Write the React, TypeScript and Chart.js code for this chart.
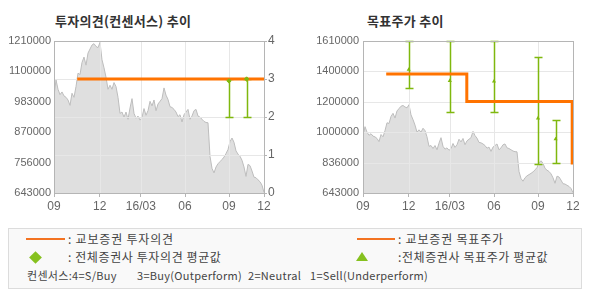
import React, { useEffect, useRef } from "react";
import { Chart, registerables } from "chart.js";

Chart.register(...registerables);

// ---- data ----
const xTickPos = [0, 22.85, 43.4, 65.5, 87.5, 105];
const xTickLabels = ["09", "12", "16/03", "06", "09", "12"];

const price = [
  1005000, 1065000, 1030000, 1010000, 1020000, 1005000, 1000000, 990000, 970000, 1015000,
  1000000, 1040000, 1090000, 1085000, 1130000, 1150000, 1120000, 1165000, 1180000, 1195000,
  1200000, 1190000, 1185000, 1205000, 1140000, 1110000, 1075000, 1030000, 1045000, 1030000,
  1055000, 1040000, 1000000, 940000, 945000, 926000, 945000, 918000, 960000, 995000,
  940000, 922000, 930000, 915000, 925000, 958000, 933000, 950000, 985000, 968000,
  990000, 950000, 975000, 985000, 995000, 1035000, 1008000, 992000, 965000, 962000,
  955000, 945000, 928000, 935000, 908000, 935000, 945000, 955000, 918000, 930000,
  950000, 955000, 930000, 926000, 918000, 910000, 906000, 905000, 780000, 735000,
  718000, 740000, 752000, 760000, 768000, 777000, 790000, 805000, 835000, 848000,
  832000, 800000, 788000, 780000, 765000, 740000, 705000, 750000, 745000, 725000,
  702000, 700000, 692000, 685000, 672000, 645000,
];

const leftPriceMin = 643000;
const leftPriceMax = 1210000;
const leftPriceTickLabels = ["643000", "756000", "870000", "983000", "1100000", "1210000"];
const opinionTicks = [0, 1, 2, 3, 4];

const rightPriceMin = 643000;
const rightPriceMax = 1610000;
const rightPriceTickLabels = ["643000", "836000", "1000000", "1200000", "1400000", "1610000"];

const kyoboOpinionX = [11.6, 105];
const kyoboOpinion = [3, 3];
const consOpinionX = [87.5, 96.3];
const consOpinionLow = [2, 2];
const consOpinionHigh = [3, 3];
const consOpinionAvg = [2.95, 3.0];

const kyoboTargetX = [11.6, 51.9, 104.6];
const kyoboTarget = [1400000, 1225000, 825000];
const consTargetX = [22.85, 43.4, 65.5, 87.5, 96.3];
const consTargetLow = [1310000, 1160000, 1160000, 826000, 832000];
const consTargetHigh = [1610000, 1610000, 1610000, 1510000, 1110000];
const consTargetAvg = [1428000, 1357000, 1353000, 1119000, 986000];

// ---- styles ----
const ORANGE = "#ff7300";
const GREEN = "#7fb80e";
const AXIS = "#b5b5b5";
const GRID = "#e7e7e7";
const TICK_FONT = { family: "'Liberation Sans', Arial, sans-serif", size: 11 };
const TICK_COLOR = "#666";

function evenTicks(min: number, max: number, n: number) {
  const out: { value: number }[] = [];
  for (let k = 0; k <= n; k++) out.push({ value: min + ((max - min) * k) / n });
  return out;
}

function makeOverlay(gridAxis: string, barAxis: string, bx: number[], lo: number[], hi: number[]) {
  return {
    id: "overlay",
    afterDatasetDraw(chart: any, args: any) {
      if (args.index !== 0) return;
      const { ctx, chartArea: ca, scales } = chart;
      const xs = scales.x;
      const gs = scales[gridAxis];
      ctx.save();
      ctx.strokeStyle = GRID;
      ctx.lineWidth = 1;
      ctx.beginPath();
      xs.ticks.forEach((t: any) => {
        const px = Math.round(xs.getPixelForValue(t.value)) + 0.5;
        ctx.moveTo(px, ca.top);
        ctx.lineTo(px, ca.bottom);
      });
      gs.ticks.forEach((t: any) => {
        const py = Math.round(gs.getPixelForValue(t.value)) + 0.5;
        ctx.moveTo(ca.left, py);
        ctx.lineTo(ca.right, py);
      });
      ctx.stroke();
      const ys = scales[barAxis];
      ctx.strokeStyle = GREEN;
      ctx.lineWidth = 1.5;
      ctx.beginPath();
      bx.forEach((xv, i) => {
        const px = Math.round(xs.getPixelForValue(xv)) + 0.5;
        const y1 = Math.round(ys.getPixelForValue(lo[i])) + 0.5;
        const y2 = Math.round(ys.getPixelForValue(hi[i])) + 0.5;
        ctx.moveTo(px, y1);
        ctx.lineTo(px, y2);
        ctx.moveTo(px - 4, y1);
        ctx.lineTo(px + 4, y1);
        ctx.moveTo(px - 4, y2);
        ctx.lineTo(px + 4, y2);
      });
      ctx.stroke();
      ctx.restore();
    },
    afterDraw(chart: any) {
      const { ctx, chartArea: ca } = chart;
      ctx.save();
      ctx.strokeStyle = AXIS;
      ctx.lineWidth = 1;
      ctx.strokeRect(Math.round(ca.left) + 0.5, Math.round(ca.top) + 0.5, Math.round(ca.right - ca.left), Math.round(ca.bottom - ca.top));
      ctx.restore();
    },
  };
}

function xScale() {
  return {
    type: "linear",
    min: 0,
    max: price.length - 1,
    afterBuildTicks: (s: any) => {
      s.ticks = xTickPos.map((v) => ({ value: v }));
    },
    afterFit: (s: any) => {
      s.height = 22;
    },
    ticks: {
      callback: (_v: any, i: number) => xTickLabels[i],
      font: { ...TICK_FONT, size: 12 },
      color: TICK_COLOR,
      padding: 2,
      maxRotation: 0,
      autoSkip: false,
    },
    grid: { drawOnChartArea: false, tickLength: 4, color: AXIS },
    border: { color: AXIS },
  };
}

function areaDataset(yAxisID: string) {
  return {
    type: "line",
    data: price.map((v, i) => ({ x: i, y: v })),
    yAxisID,
    borderColor: "#bdbdbd",
    borderWidth: 1,
    backgroundColor: "#dfdfdf",
    fill: "start",
    pointRadius: 0,
    tension: 0,
    order: 3,
  };
}

function OpinionChart() {
  const ref = useRef<HTMLCanvasElement>(null);
  useEffect(() => {
    const chart = new Chart(ref.current as HTMLCanvasElement, {
      type: "line",
      data: {
        datasets: [
          areaDataset("y") as any,
          {
            type: "line",
            data: kyoboOpinionX.map((x, i) => ({ x, y: kyoboOpinion[i] })),
            yAxisID: "y1",
            borderColor: ORANGE,
            borderWidth: 3,
            pointRadius: 0,
            fill: false,
            stepped: "before",
            order: 2,
          } as any,
          {
            type: "scatter",
            data: consOpinionX.map((x, i) => ({ x, y: consOpinionAvg[i] })),
            yAxisID: "y1",
            backgroundColor: GREEN,
            borderColor: GREEN,
            pointStyle: "rectRot",
            pointRadius: 2.2,
            order: 1,
          } as any,
        ],
      },
      options: {
        animation: false,
        responsive: false,
        layout: { padding: { top: 41, left: 0, right: 0, bottom: 0 } },
        plugins: { legend: { display: false }, tooltip: { enabled: false } },
        scales: {
          x: xScale() as any,
          y: {
            type: "linear",
            position: "left",
            min: leftPriceMin,
            max: leftPriceMax,
            afterBuildTicks: (s: any) => {
              s.ticks = evenTicks(leftPriceMin, leftPriceMax, 5);
            },
            afterFit: (s: any) => {
              s.width = 54;
            },
            ticks: {
              callback: (_v: any, i: number) => leftPriceTickLabels[i],
              font: TICK_FONT,
              color: TICK_COLOR,
              padding: 3,
            },
            grid: { display: false, drawTicks: false },
            border: { color: AXIS },
          } as any,
          y1: {
            type: "linear",
            position: "right",
            min: 0,
            max: 4,
            afterBuildTicks: (s: any) => {
              s.ticks = opinionTicks.map((v) => ({ value: v }));
            },
            afterFit: (s: any) => {
              s.width = 31;
            },
            ticks: { font: { ...TICK_FONT, size: 12 }, color: TICK_COLOR, padding: 1 },
            grid: { drawOnChartArea: false, tickLength: 3, color: AXIS },
            border: { color: AXIS },
          } as any,
        },
      },
      plugins: [makeOverlay("y1", "y1", consOpinionX, consOpinionLow, consOpinionHigh)],
    } as any);
    return () => chart.destroy();
  }, []);
  return <canvas ref={ref} width={295} height={215} style={{ width: 295, height: 215, display: "block" }} />;
}

function TargetChart() {
  const ref = useRef<HTMLCanvasElement>(null);
  useEffect(() => {
    const chart = new Chart(ref.current as HTMLCanvasElement, {
      type: "line",
      data: {
        datasets: [
          areaDataset("y") as any,
          {
            type: "line",
            data: kyoboTargetX.map((x, i) => ({ x, y: kyoboTarget[i] })),
            yAxisID: "y",
            borderColor: ORANGE,
            borderWidth: 3,
            pointRadius: 0,
            fill: false,
            stepped: "before",
            order: 2,
          } as any,
          {
            type: "scatter",
            data: consTargetX.map((x, i) => ({ x, y: consTargetAvg[i] })),
            yAxisID: "y",
            backgroundColor: GREEN,
            borderColor: GREEN,
            borderWidth: 0,
            pointStyle: "triangle",
            pointRadius: 2.4,
            order: 1,
          } as any,
        ],
      },
      options: {
        animation: false,
        responsive: false,
        layout: { padding: { top: 41, left: 0, right: 17, bottom: 0 } },
        plugins: { legend: { display: false }, tooltip: { enabled: false } },
        scales: {
          x: xScale() as any,
          y: {
            type: "linear",
            position: "left",
            min: rightPriceMin,
            max: rightPriceMax,
            afterBuildTicks: (s: any) => {
              s.ticks = evenTicks(rightPriceMin, rightPriceMax, 5);
            },
            afterFit: (s: any) => {
              s.width = 68;
            },
            ticks: {
              callback: (_v: any, i: number) => rightPriceTickLabels[i],
              font: TICK_FONT,
              color: TICK_COLOR,
              padding: 4,
            },
            grid: { drawOnChartArea: false, drawTicks: false, color: AXIS },
            border: { color: AXIS },
          } as any,
        },
      },
      plugins: [makeOverlay("y", "y", consTargetX, consTargetLow, consTargetHigh)],
    } as any);
    return () => chart.destroy();
  }, []);
  return <canvas ref={ref} width={295} height={215} style={{ width: 295, height: 215, display: "block" }} />;
}

const KR = "'Noto Sans CJK KR', 'Noto Sans', sans-serif";

function Txt(props: { x: number; cy: number; size: number; text: string; bold?: boolean; color?: string; ls?: number }) {
  const lh = 18;
  return (
    <div
      style={{
        position: "absolute",
        left: props.x,
        top: props.cy - lh / 2,
        lineHeight: lh + "px",
        fontSize: props.size,
        fontWeight: props.bold ? "bold" : "normal",
        color: props.color || "#444",
        whiteSpace: "pre",
        fontFamily: KR,
        letterSpacing: (props.ls || 0) + "px",
      }}
    >
      {props.text}
    </div>
  );
}

export default function App() {
  useEffect(() => {
    document.body.style.margin = "0";
  }, []);
  return (
    <div style={{ position: "absolute", left: 0, top: 0, width: 590, height: 300, background: "#fff", overflow: "hidden" }}>
      <Txt x={55} cy={21} size={13} bold text="투자의견(컨센서스) 추이" color="#333" ls={0.3} />
      <Txt x={367} cy={21} size={13} bold text="목표주가 추이" color="#333" ls={0.3} />
      <div style={{ position: "absolute", left: 0, top: 0 }}>
        <OpinionChart />
      </div>
      <div style={{ position: "absolute", left: 295, top: 0 }}>
        <TargetChart />
      </div>
      <div
        style={{
          position: "absolute",
          left: 8,
          top: 228,
          width: 574,
          height: 61,
          boxSizing: "border-box",
          border: "1px solid #dcdcdc",
          background: "#f9f9f9",
        }}
      />
      <div style={{ position: "absolute", left: 26, top: 238, width: 39, height: 2, background: "#f37321" }} />
      <Txt x={68} cy={239} size={12} ls={0.8} text=": 교보증권 투자의견" />
      <div style={{ position: "absolute", left: 30.5, top: 252.5, width: 9, height: 9, background: "#86c11f", transform: "rotate(45deg)" }} />
      <Txt x={68} cy={257} size={12} ls={0.6} text=": 전체증권사 투자의견 평균값" />
      <div style={{ position: "absolute", left: 357, top: 238, width: 38, height: 2, background: "#f37321" }} />
      <Txt x={398} cy={239} size={12} ls={0.8} text=": 교보증권 목표주가" />
      <div
        style={{
          position: "absolute",
          left: 356,
          top: 252,
          width: 0,
          height: 0,
          borderLeft: "6px solid transparent",
          borderRight: "6px solid transparent",
          borderBottom: "9px solid #86c11f",
        }}
      />
      <Txt x={398} cy={257} size={12} ls={0.6} text=":전체증권사 목표주가 평균값" />
      <Txt x={27} cy={275} size={11} ls={0.3} text="컨센서스:4=S/Buy" />
      <Txt x={137} cy={275} size={11} ls={0.3} text="3=Buy(Outperform)" />
      <Txt x={248} cy={275} size={11} ls={0.3} text="2=Neutral" />
      <Txt x={310} cy={275} size={11} ls={0.3} text="1=Sell(Underperform)" />
    </div>
  );
}
